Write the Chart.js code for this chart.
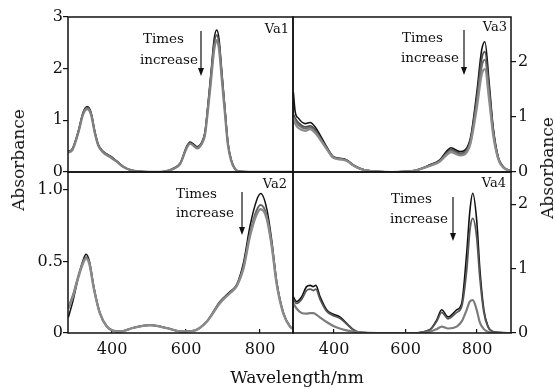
<!DOCTYPE html>
<html>
<head>
<meta charset="utf-8">
<script src="https://cdn.jsdelivr.net/npm/chart.js@4"></script>
<style>
  body { margin: 0; background: #fff; }
  #wrap { position: relative; width: 555px; height: 389px; font-family: "DejaVu Serif", serif; color: #111; }
  #wrap canvas { position: absolute; left: 0; top: 0; }
  .t { position: absolute; white-space: nowrap; line-height: 16px; font-size: 13.5px; }
  .tag { position: absolute; white-space: nowrap; line-height: 16px; font-size: 13px; text-align: right; }
  .ax { position: absolute; white-space: nowrap; font-size: 17px; line-height: 20px; }
</style>
</head>
<body>
<div id="wrap">
  <canvas id="c1" width="555" height="389"></canvas>
  <canvas id="c2" width="555" height="389"></canvas>
  <canvas id="c3" width="555" height="389"></canvas>
  <canvas id="c4" width="555" height="389"></canvas>

  <div class="ax" style="left:18px;top:160px;transform:translate(-50%,-50%) rotate(-90deg);">Absorbance</div>
  <div class="ax" style="left:547px;top:168px;transform:translate(-50%,-50%) rotate(-90deg);">Absorbance</div>
  <div class="ax" style="left:297px;top:377px;transform:translate(-50%,-50%);">Wavelength/nm</div>

  <div class="tag" style="right:266px;top:21px;">Va1</div>
  <div class="tag" style="right:48px;top:19px;">Va3</div>
  <div class="tag" style="right:268px;top:176px;">Va2</div>
  <div class="tag" style="right:49px;top:175px;">Va4</div>

  <div class="t" style="left:143px;top:30px;">Times</div>
  <div class="t" style="left:140px;top:51px;">increase</div>
  <div class="t" style="left:402px;top:29px;">Times</div>
  <div class="t" style="left:401px;top:49px;">increase</div>
  <div class="t" style="left:176px;top:185px;">Times</div>
  <div class="t" style="left:176px;top:204px;">increase</div>
  <div class="t" style="left:391px;top:190px;">Times</div>
  <div class="t" style="left:390px;top:210px;">increase</div>
</div>
<script>
// Va1
const wl1 = [281, 292, 308, 322, 333, 343, 354, 363, 376, 395, 413, 430, 449, 476, 530, 548, 565, 584, 602, 611, 622, 630, 641, 651, 659, 668, 676, 683, 689, 697, 705, 713, 722, 732, 746, 800, 890];
const va1Black = [0.40, 0.44, 0.77, 1.16, 1.27, 1.16, 0.77, 0.53, 0.40, 0.31, 0.21, 0.11, 0.04, 0.01, 0.00, 0.02, 0.07, 0.17, 0.50, 0.58, 0.53, 0.49, 0.56, 0.77, 1.30, 1.98, 2.58, 2.75, 2.58, 1.92, 1.25, 0.58, 0.24, 0.07, 0.01, 0, 0];
const va1Dark = [0.39, 0.43, 0.75, 1.14, 1.25, 1.14, 0.75, 0.52, 0.39, 0.30, 0.20, 0.10, 0.04, 0.01, 0, 0.02, 0.06, 0.16, 0.48, 0.56, 0.51, 0.47, 0.54, 0.74, 1.25, 1.90, 2.48, 2.65, 2.49, 1.85, 1.20, 0.56, 0.23, 0.06, 0.01, 0, 0];
const va1Gray = [0.38, 0.42, 0.74, 1.12, 1.22, 1.12, 0.74, 0.51, 0.38, 0.29, 0.20, 0.10, 0.04, 0.01, 0, 0.02, 0.06, 0.16, 0.47, 0.55, 0.50, 0.46, 0.53, 0.72, 1.20, 1.82, 2.38, 2.55, 2.40, 1.78, 1.15, 0.54, 0.22, 0.06, 0.01, 0, 0];

// Va2
const wl2 = [282, 295, 309, 322, 330, 339, 351, 367, 386, 403, 422, 457, 503, 548, 588, 620, 656, 692, 719, 737, 755, 773, 791, 802, 818, 832, 845, 863, 881, 889];
const va2Black = [0.11, 0.23, 0.39, 0.51, 0.55, 0.50, 0.32, 0.14, 0.045, 0.016, 0.01, 0.037, 0.056, 0.035, 0.01, 0.015, 0.08, 0.22, 0.29, 0.34, 0.49, 0.75, 0.93, 0.975, 0.87, 0.64, 0.36, 0.14, 0.045, 0.03];
const va2Dark = [0.18, 0.27, 0.40, 0.50, 0.53, 0.49, 0.31, 0.14, 0.045, 0.016, 0.01, 0.036, 0.055, 0.034, 0.01, 0.015, 0.08, 0.22, 0.28, 0.33, 0.46, 0.70, 0.86, 0.895, 0.82, 0.61, 0.35, 0.14, 0.045, 0.03];
const va2Gray = [0.17, 0.26, 0.39, 0.49, 0.52, 0.48, 0.31, 0.14, 0.045, 0.016, 0.01, 0.036, 0.055, 0.034, 0.01, 0.015, 0.08, 0.21, 0.28, 0.33, 0.45, 0.68, 0.83, 0.865, 0.80, 0.60, 0.34, 0.135, 0.045, 0.03];

// Va3
const wl3 = [286, 291, 300, 319, 333, 347, 361, 379, 398, 416, 435, 454, 472, 500, 560, 621, 668, 696, 715, 727, 752, 780, 799, 813, 822, 834, 845, 859, 873, 892];
const va3Black = [1.45, 1.10, 0.98, 0.88, 0.90, 0.82, 0.67, 0.46, 0.28, 0.25, 0.22, 0.13, 0.07, 0.02, 0, 0.02, 0.13, 0.22, 0.38, 0.44, 0.37, 0.58, 1.43, 2.22, 2.37, 1.61, 0.82, 0.28, 0.10, 0.02];
const va3Dark = [1.05, 0.98, 0.90, 0.82, 0.84, 0.77, 0.63, 0.44, 0.27, 0.24, 0.21, 0.12, 0.06, 0.02, 0, 0.02, 0.12, 0.21, 0.35, 0.41, 0.34, 0.54, 1.33, 2.06, 2.19, 1.50, 0.77, 0.26, 0.09, 0.02];
const va3Mid = [1.00, 0.94, 0.86, 0.79, 0.81, 0.74, 0.61, 0.43, 0.26, 0.24, 0.21, 0.12, 0.06, 0.02, 0, 0.02, 0.12, 0.20, 0.33, 0.39, 0.32, 0.51, 1.25, 1.92, 2.04, 1.41, 0.73, 0.25, 0.09, 0.02];
const va3Light = [0.98, 0.88, 0.80, 0.75, 0.78, 0.71, 0.59, 0.42, 0.26, 0.23, 0.20, 0.12, 0.06, 0.02, 0, 0.02, 0.11, 0.19, 0.31, 0.36, 0.30, 0.48, 1.15, 1.77, 1.87, 1.30, 0.68, 0.24, 0.08, 0.02];

// Va4
const wl4 = [286, 295, 309, 323, 333, 342, 349, 361, 379, 398, 416, 435, 454, 472, 520, 620, 668, 687, 701, 719, 743, 757, 771, 780, 788, 799, 808, 819, 831, 845, 895];
const va4Black = [0.56, 0.49, 0.56, 0.72, 0.74, 0.72, 0.74, 0.56, 0.36, 0.29, 0.25, 0.15, 0.05, 0.01, 0, 0, 0.05, 0.20, 0.36, 0.25, 0.36, 0.46, 1.24, 1.90, 2.17, 1.75, 0.98, 0.36, 0.10, 0.02, 0];
const va4Dark = [0.52, 0.46, 0.52, 0.66, 0.68, 0.66, 0.68, 0.52, 0.34, 0.27, 0.23, 0.14, 0.05, 0.01, 0, 0, 0.05, 0.18, 0.32, 0.22, 0.32, 0.41, 0.98, 1.60, 1.78, 1.49, 0.85, 0.32, 0.09, 0.02, 0];
const va4Gray = [0.46, 0.38, 0.31, 0.30, 0.31, 0.31, 0.29, 0.24, 0.17, 0.11, 0.07, 0.04, 0.02, 0.01, 0, 0, 0.02, 0.06, 0.10, 0.07, 0.10, 0.18, 0.36, 0.49, 0.51, 0.36, 0.16, 0.06, 0.02, 0, 0];

// ticks
const xTicks = [400, 600, 800];
const yTicks1 = [0, 1, 2, 3];
const yTicks2 = [0, 0.5, 1.0];
const yTicks3 = [0, 1, 2];
const yTicks4 = [0, 1, 2];

const FONT = "DejaVu Serif";

function pts(wl, vals) {
  return wl.map((w, i) => ({ x: w, y: vals[i] }));
}

// frame around the plot area plus the "times increase" arrow
const framePlugin = {
  id: "frame",
  afterDraw(chart, args, opts) {
    const a = chart.chartArea;
    const ctx = chart.ctx;
    ctx.save();
    ctx.strokeStyle = "#111";
    ctx.fillStyle = "#111";
    ctx.lineWidth = 1.5;
    ctx.strokeRect(a.left, a.top, a.right - a.left, a.bottom - a.top);
    if (opts.arrow) {
      const ar = opts.arrow;
      ctx.lineWidth = 1.2;
      ctx.beginPath();
      ctx.moveTo(ar.x, ar.y1);
      ctx.lineTo(ar.x, ar.y2 - 6);
      ctx.stroke();
      ctx.beginPath();
      ctx.moveTo(ar.x - 3, ar.y2 - 8);
      ctx.lineTo(ar.x + 3, ar.y2 - 8);
      ctx.lineTo(ar.x, ar.y2);
      ctx.closePath();
      ctx.fill();
    }
    ctx.restore();
  },
};

function panel(id, p) {
  const left = p.yPos === "left";
  new Chart(document.getElementById(id), {
    type: "line",
    data: {
      datasets: p.sets.map((s) => ({
        data: pts(p.wl, s.data),
        borderColor: s.color,
        borderWidth: s.w,
        pointRadius: 0,
        fill: false,
        cubicInterpolationMode: "monotone",
      })),
    },
    options: {
      responsive: false,
      animation: false,
      events: [],
      layout: { padding: p.pad },
      plugins: {
        legend: { display: false },
        tooltip: { enabled: false },
        frame: { arrow: p.arrow },
      },
      scales: {
        x: {
          type: "linear",
          min: p.xmin,
          max: p.xmax,
          display: p.showX,
          afterBuildTicks: (s) => { s.ticks = xTicks.map((v) => ({ value: v })); },
          afterFit: (s) => { s.height = p.showX ? 30 : 0; },
          grid: { drawOnChartArea: false, tickLength: -4, color: "#111", lineWidth: 1.2 },
          border: { display: false },
          ticks: { padding: 11, color: "#111", maxRotation: 0, font: { family: FONT, size: 16 } },
        },
        y: {
          position: p.yPos,
          min: 0,
          max: p.ymax,
          afterBuildTicks: (s) => { s.ticks = p.yTicks.map((v) => ({ value: v })); },
          afterFit: (s) => { s.width = 40; },
          grid: { drawOnChartArea: false, tickLength: 5, color: "#111", lineWidth: 1.2 },
          border: { display: false },
          ticks: {
            padding: left ? 0 : 2,
            color: "#111",
            font: { family: FONT, size: 16 },
            callback: p.fmt || ((v) => String(v)),
          },
        },
      },
    },
    plugins: [framePlugin],
  });
}

panel("c1", {
  wl: wl1, xmin: 281, xmax: 889, ymax: 3, yTicks: yTicks1, yPos: "left", showX: false,
  pad: { left: 28, top: 17, right: 262, bottom: 217 },
  arrow: { x: 201, y1: 31, y2: 76 },
  sets: [
    { data: va1Gray, color: "#808080", w: 2.4 },
    { data: va1Dark, color: "#555555", w: 1.8 },
    { data: va1Black, color: "#111111", w: 1.5 },
  ],
});

panel("c2", {
  wl: wl3, xmin: 285, xmax: 895, ymax: 2.82, yTicks: yTicks3, yPos: "right", showX: false,
  pad: { left: 293, top: 17, right: 4, bottom: 217 },
  arrow: { x: 464, y1: 30, y2: 75 },
  sets: [
    { data: va3Light, color: "#8c8c8c", w: 2.2 },
    { data: va3Mid, color: "#6e6e6e", w: 2.0 },
    { data: va3Dark, color: "#4a4a4a", w: 1.8 },
    { data: va3Black, color: "#111111", w: 1.6 },
  ],
});

panel("c3", {
  wl: wl2, xmin: 281, xmax: 889, ymax: 1.126, yTicks: yTicks2, yPos: "left", showX: true,
  pad: { left: 28, top: 172, right: 262, bottom: 26 },
  arrow: { x: 242, y1: 192, y2: 235 },
  fmt: (v) => (v === 0 ? "0" : v.toFixed(1)),
  sets: [
    { data: va2Gray, color: "#8a8a8a", w: 2.4 },
    { data: va2Dark, color: "#666666", w: 2.0 },
    { data: va2Black, color: "#111111", w: 1.5 },
  ],
});

panel("c4", {
  wl: wl4, xmin: 285, xmax: 895, ymax: 2.5, yTicks: yTicks4, yPos: "right", showX: true,
  pad: { left: 293, top: 172, right: 4, bottom: 26 },
  arrow: { x: 453, y1: 197, y2: 241 },
  sets: [
    { data: va4Gray, color: "#7c7c7c", w: 2.2 },
    { data: va4Dark, color: "#555555", w: 1.8 },
    { data: va4Black, color: "#111111", w: 1.6 },
  ],
});
</script>
</body>
</html>
